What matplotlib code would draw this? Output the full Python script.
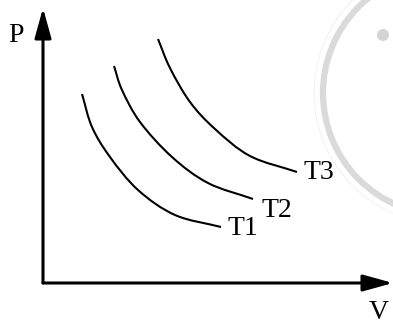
#P-V diagram with three isotherms
import numpy as np
import matplotlib.pyplot as plt
from matplotlib.patches import Circle, FancyArrowPatch, PathPatch
from matplotlib.path import Path

# isotherm points (V, P)
t1_v = [39, 49, 67, 95, 132, 178]
t1_p = [189, 156, 126, 93, 68, 56]

t2_v = [71, 79, 97, 129, 165, 210]
t2_p = [217, 193, 161, 126, 100, 84]

t3_v = [115, 127, 147, 172, 207, 254]
t3_p = [244, 215, 181, 154, 127, 111]

curves = [(t1_v, t1_p), (t2_v, t2_p), (t3_v, t3_p)]
labels = ['T1', 'T2', 'T3']
label_pos = [(200, 48), (234, 66), (276, 104)]


def smooth_path(v, p):
    # catmull-rom through the read points, drawn as bezier segments
    pts = np.column_stack([v, p]).astype(float)
    ext = np.vstack([2 * pts[0] - pts[1], pts, 2 * pts[-1] - pts[-2]])
    verts = [pts[0]]
    codes = [Path.MOVETO]
    for i in range(1, len(ext) - 2):
        c1 = ext[i] + (ext[i + 1] - ext[i - 1]) / 6
        c2 = ext[i + 1] - (ext[i + 2] - ext[i]) / 6
        verts += [c1, c2, ext[i + 1]]
        codes += [Path.CURVE4] * 3
    return Path(verts, codes)


fig = plt.figure(figsize=(3.93, 3.25), dpi=100)
ax = fig.add_axes([0, 0, 1, 1])
ax.set_xlim(-43, 350)
ax.set_ylim(-42, 283)
ax.axis('off')

# faint watermark in the background
ax.add_patch(Circle((402, 190), 122, fill=False, lw=4.5, ec='#dadada'))
ax.add_patch(Circle((402, 190), 131, fill=False, lw=0.6, ec='#eeeeee'))
ax.add_patch(Circle((340, 248), 6, color='#d4d4d4', lw=0))

for (v, p) in curves:
    ax.add_patch(PathPatch(smooth_path(v, p), fill=False, ec='black', lw=1.5, capstyle='butt'))

font = dict(fontsize=20, family='Liberation Serif', ha='center', va='baseline')
for lab, (x, y) in zip(labels, label_pos):
    ax.text(x, y, lab, **font)

# axes with arrow heads
arrow_kw = dict(arrowstyle='-|>,head_length=1.3,head_width=0.36', color='black',
                lw=2.2, mutation_scale=14, shrinkA=0, shrinkB=0)
ax.add_patch(FancyArrowPatch((0, 0), (0, 275), **arrow_kw))
ax.add_patch(FancyArrowPatch((0, 0), (350, 0), **arrow_kw))

ax.text(-27, 241, 'P', **font)
ax.text(336, -36, 'V', **font)

fig.savefig('out.png', dpi=100)
